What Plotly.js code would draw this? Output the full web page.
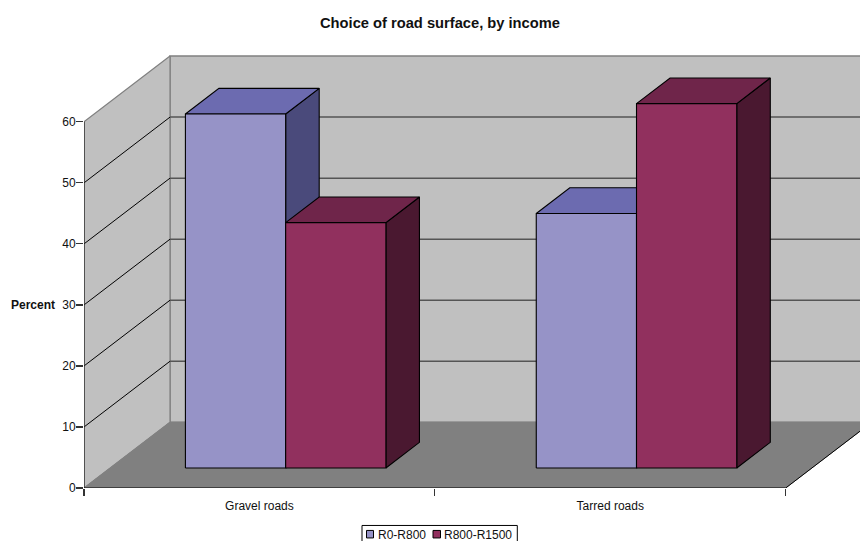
<!DOCTYPE html>
<html>
<head>
<meta charset="utf-8">
<script src="https://cdn.plot.ly/plotly-3.0.1.min.js"></script>
<style>html,body{margin:0;padding:0;background:#fff;overflow:hidden}#chart{width:860px;height:541px}</style>
</head>
<body>
<div id="chart"></div>
<script>
// Survey results: share of respondents choosing each road surface
const categories = ["Gravel roads", "Tarred roads"];
const seriesNames = ["R0-R800", "R800-R1500"];
const lowIncome = [58, 41.7];
const midIncome = [40.2, 59.7];
const yTicks = [0, 10, 20, 30, 40, 50, 60];
const gridValues = [10, 20, 30, 40, 50];

const wallColor = "#C0C0C0";
const floorColor = "#808080";
const edgeColor = "#808080";
const barPalette = [
  {front: "#9693C7", top: "#6C6BB0", side: "#4A4A7B"},
  {front: "#91305E", top: "#6F254A", side: "#4A1830"}
];

// Plot frame in page pixels
const W = 860, H = 541;
const mLeft = 84, mRight = 0, mTop = 50, mBottom = 52.5;
const unitX = 350.85;             // pixels per category
const unitY = 6.11;               // pixels per percent
const plotW = W - mLeft - mRight, plotH = H - mTop - mBottom;
const xMax = plotW / unitX, yMax = plotH / unitY;

// Oblique projection: depth 0 is the front edge, 1 is the back wall
const depthX = 86 / unitX, depthY = 65.8 / unitY;
const project = (x, y, d) => [x + d * depthX, y + d * depthY];
const nCat = categories.length;
const yTop = yTicks[yTicks.length - 1];

function poly(corners, fill, lineColor, lineWidth) {
  const pts = corners.concat([corners[0]]).map(c => project(c[0], c[1], c[2]));
  return {
    type: "scatter", mode: "lines", hoverinfo: "skip", showlegend: false, cliponaxis: false,
    x: pts.map(p => p[0]), y: pts.map(p => p[1]),
    fill: "toself", fillcolor: fill,
    line: {color: lineColor, width: lineWidth}
  };
}
function segment(a, b, color, width) {
  const p = project(a[0], a[1], a[2]), q = project(b[0], b[1], b[2]);
  return {
    type: "scatter", mode: "lines", hoverinfo: "skip", showlegend: false, cliponaxis: false,
    x: [p[0], q[0]], y: [p[1], q[1]], line: {color: color, width: width}
  };
}

const traces = [];
// Walls and floor
traces.push(poly([[0, 0, 1], [nCat, 0, 1], [nCat, yTop, 1], [0, yTop, 1]], wallColor, edgeColor, 1.5));
traces.push(poly([[0, 0, 0], [0, 0, 1], [0, yTop, 1], [0, yTop, 0]], wallColor, edgeColor, 1.2));
traces.push(poly([[0, 0, 0], [nCat, 0, 0], [nCat, 0, 1], [0, 0, 1]], floorColor, floorColor, 1));

// Gridlines run along the side wall, then across the back wall
gridValues.forEach(v => {
  traces.push(segment([0, v, 0], [0, v, 1], "#000000", 1));
  traces.push(segment([0, v, 1], [nCat, v, 1], "#555555", 1.5));
});
traces.push(segment([nCat, 0, 0], [nCat, 0, 1], "#000000", 1));

// Clustered bars, drawn left to right so later bars overlap earlier ones
const barW = 2 / 7, barGap = 1.5 / 7, dFront = 0.305, dBack = 0.695;
function addBar(x0, value, colors) {
  const x1 = x0 + barW;
  traces.push(poly([[x1, 0, dFront], [x1, 0, dBack], [x1, value, dBack], [x1, value, dFront]], colors.side, "#000000", 1.1));
  traces.push(poly([[x0, value, dFront], [x1, value, dFront], [x1, value, dBack], [x0, value, dBack]], colors.top, "#000000", 1.1));
  traces.push(poly([[x0, 0, dFront], [x1, 0, dFront], [x1, value, dFront], [x0, value, dFront]], colors.front, "#000000", 1.1));
}
categories.forEach((_, i) => {
  addBar(i + barGap, lowIncome[i], barPalette[0]);
  addBar(i + barGap + barW, midIncome[i], barPalette[1]);
});

// Axis lines
traces.push(segment([0, 0, 0], [0, yTop, 0], "#333333", 1.4));
traces.push(segment([0, 0, 0], [nCat, 0, 0], "#000000", 1.2));

// Helpers for placing page furniture by pixel
const px = v => (v - mLeft) / plotW;
const py = v => (H - mBottom - v) / plotH;
const font = {family: "Liberation Sans, Arial, sans-serif", size: 12, color: "#111111"};
const rect = (x0, y0, x1, y1, fill, lineW) => ({
  type: "rect", xref: "paper", yref: "paper", layer: "above",
  x0: px(x0), x1: px(x1), y0: py(y0), y1: py(y1),
  fillcolor: fill, line: {color: "#000000", width: lineW}
});
const label = (x, y, text, anchor, bold) => ({
  xref: "paper", yref: "paper", x: px(x), y: py(y), text: bold ? "<b>" + text + "</b>" : text,
  xanchor: anchor, yanchor: "middle", showarrow: false, font: font, borderpad: 0
});

const layout = {
  width: W, height: H,
  margin: {l: mLeft, r: mRight, t: mTop, b: mBottom, pad: 0},
  paper_bgcolor: "#FFFFFF", plot_bgcolor: "#FFFFFF",
  showlegend: false,
  font: font,
  xaxis: {
    range: [0, xMax], showgrid: false, zeroline: false, showline: false,
    tickmode: "array", tickvals: categories.map((_, i) => i + 0.5), ticktext: categories,
    ticks: "", tickfont: font, automargin: false, ticklabelstandoff: 9,
    minor: {tickmode: "array", tickvals: [0, 1, 2], ticks: "outside", ticklen: 7, tickwidth: 1.2, tickcolor: "#333333", showgrid: false}
  },
  yaxis: {
    range: [0, yMax], showgrid: false, zeroline: false, showline: false,
    tickmode: "array", tickvals: yTicks, ticks: "outside", ticklen: 7, tickwidth: 1.2, tickcolor: "#333333",
    tickfont: font, automargin: false, ticklabelstandoff: -2
  },
  shapes: [
    rect(362, 526, 517.3, 560, "#FFFFFF", 1),
    rect(366.5, 531, 373.5, 538.5, barPalette[0].front, 1),
    rect(433, 531, 440.5, 538.5, barPalette[1].front, 1)
  ],
  annotations: [
    Object.assign(label(440, 23, "Choice of road surface, by income", "center", true), {font: Object.assign({}, font, {size: 14.7})}),
    label(56, 305, "Percent", "right", true),
    label(377, 536, seriesNames[0], "left", false),
    label(443, 536, seriesNames[1], "left", false)
  ]
};

Plotly.newPlot("chart", traces, layout, {displayModeBar: false, staticPlot: true});
</script>
</body>
</html>
